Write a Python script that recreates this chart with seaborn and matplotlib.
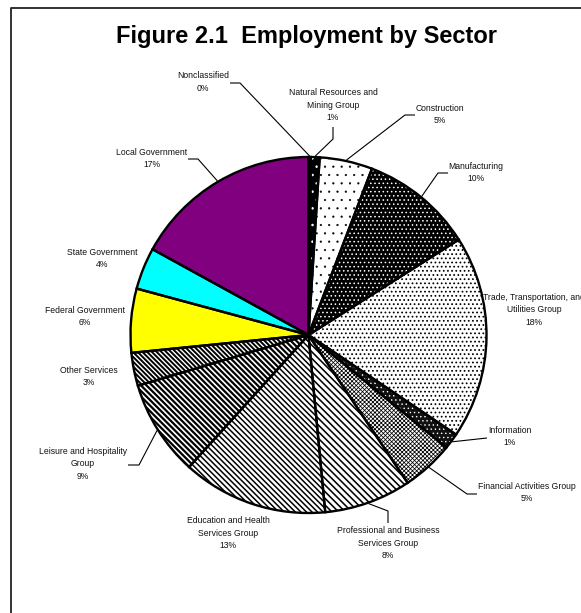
import matplotlib
matplotlib.use("Agg")
import matplotlib.pyplot as plt
import seaborn as sns
import numpy as np

# ---------------- data ----------------
sectors = [
    "Nonclassified",
    "Natural Resources and\nMining Group",
    "Construction",
    "Manufacturing",
    "Trade, Transportation, and\nUtilities Group",
    "Information",
    "Financial Activities Group",
    "Professional and Business\nServices Group",
    "Education and Health\nServices Group",
    "Leisure and Hospitality\nGroup",
    "Other Services",
    "Federal Government",
    "State Government",
    "Local Government",
]
shares = [0.2, 0.8, 4.8, 10.2, 18.45, 1.45, 4.7, 7.9, 13.2, 8.7, 3.0, 5.8, 3.8, 17.0]
title = "Figure 2.1  Employment by Sector"

# ---------------- styling / layout ----------------
sns.set_theme(style="white")
plt.rcParams['font.family'] = ['Liberation Sans', 'DejaVu Sans']
plt.rcParams['hatch.linewidth'] = 1.0

W, H = 581, 613
fig = plt.figure(figsize=(W / 100, H / 100), dpi=100)
ax = fig.add_axes([0, 0, 1, 1])

CX, CY, R = 308.5, 335.0, 178.0  # pixel coords (y down)

BS = "\\"
# (facecolor, hatch colour, hatch, hatch linewidth)
styles = [
    ("white", "black", None, 1.0),
    ("black", "white", "..", 0.6),
    ("white", "black", "..", 0.35),
    ("black", "white", "....", 0.6),
    ("white", "black", "....", 0.75),
    ("#111111", "white", "....", 0.5),
    ("white", "black", "xxxxxxxx", 0.55),
    ("white", "black", BS * 5, 1.15),
    ("white", "black", BS * 6, 1.1),
    ("white", "black", BS * 6, 1.6),
    ("white", "black", BS * 7, 1.4),
    ("#FFFF00", "black", None, 1.0),
    ("#00FFFF", "black", None, 1.0),
    ("#800080", "black", None, 1.0),
]

wedges, _ = ax.pie(shares, startangle=90, counterclock=False,
                   center=(CX, H - CY), radius=R,
                   wedgeprops=dict(linewidth=0))
for w, (fc, hc, hatch, hlw) in zip(wedges, styles):
    w.set_facecolor(fc)
    w.set_edgecolor(hc)
    w.set_linewidth(0)
    if hatch:
        w.set_hatch(hatch)
        if hasattr(w, "set_hatch_linewidth"):
            w.set_hatch_linewidth(hlw)

outl, _ = ax.pie(shares, startangle=90, counterclock=False,
                 center=(CX, H - CY), radius=R,
                 wedgeprops=dict(fill=False, edgecolor="black", linewidth=1.7))

ax.set_xlim(0, W)
ax.set_ylim(0, H)
ax.set_aspect("equal")
ax.axis("off")

# label text positions (pixel coords, y down) and leader elbows
label_pos = [
    (203, 82), (333, 105), (440, 114.5), (476, 172.5), (534, 310),
    (510, 436.5), (527, 492.5), (388, 543), (228, 533), (83, 464),
    (89, 376.5), (85, 316.5), (102, 258.5), (152, 158.5),
]
leaders = {
    0: [(230, 83), (240, 83)],
    1: [(333, 127), (333, 139)],
    2: [(415, 115), (405, 115)],
    3: [(448, 173), (438, 173)],
    5: [(487, 438)],
    6: [(477, 494), (467, 494)],
    7: [(388, 523), (388, 511)],
    9: [(128, 465), (139, 465)],
    13: [(188, 159), (198, 159)],
}

total = sum(shares)
cum = np.cumsum([0] + shares)
for i, (name, val) in enumerate(zip(sectors, shares)):
    pct = f"{val / total * 100:.0f}%"
    x, y = label_pos[i]
    ax.text(x, H - y, f"{name}\n{pct}", ha="center", va="center",
            multialignment="center", fontsize=6.2, color="#111111",
            linespacing=1.55)
    if i in leaders:
        mid = (cum[i] + cum[i + 1]) / 2 / total * 2 * np.pi
        px = CX + (R + 1) * np.sin(mid)
        py = CY - (R + 1) * np.cos(mid)
        pts = leaders[i] + [(px, py)]
        ax.plot([p[0] for p in pts], [H - p[1] for p in pts],
                color="black", linewidth=0.8, solid_capstyle="butt")

# title
ax.text(306.5, H - 37, title, ha="center", va="center",
        fontsize=17, fontweight="bold", color="black")

# chart area border (top and left visible)
ax.plot([10.5, 10.5, W + 5], [-5, H - 7.5, H - 7.5], color="#222222",
        linewidth=1.3, clip_on=False)

fig.savefig("out.png", dpi=100)
